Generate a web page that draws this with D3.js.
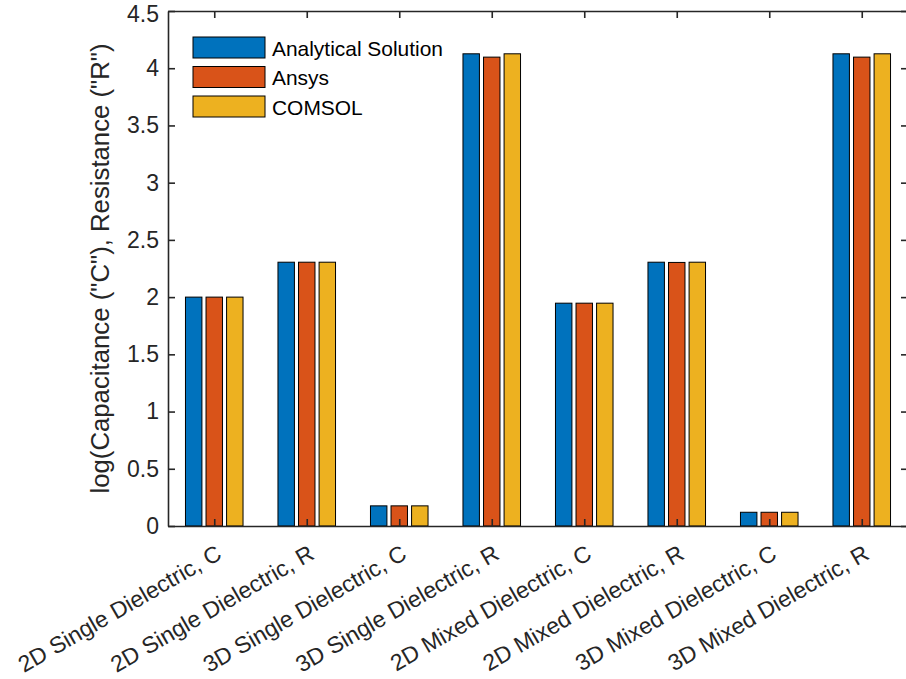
<!DOCTYPE html>
<html>
<head>
<meta charset="utf-8">
<script src="https://cdn.jsdelivr.net/npm/d3@7"></script>
<style>
  body { margin: 0; background: #fff; }
  text { font-family: "Liberation Sans", Arial, sans-serif; }
</style>
</head>
<body>
<svg id="chart" width="906" height="679"></svg>
<script>
const categories = [
    "2D Single Dielectric, C", "2D Single Dielectric, R",
    "3D Single Dielectric, C", "3D Single Dielectric, R",
    "2D Mixed Dielectric, C", "2D Mixed Dielectric, R",
    "3D Mixed Dielectric, C", "3D Mixed Dielectric, R"
];
const seriesNames = ["Analytical Solution", "Ansys", "COMSOL"];
const analytical = [2.0, 2.305, 0.176, 4.126, 1.947, 2.305, 0.12, 4.126];
const ansys      = [2.0, 2.305, 0.176, 4.097, 1.947, 2.303, 0.12, 4.097];
const comsol     = [2.0, 2.305, 0.176, 4.126, 1.947, 2.305, 0.12, 4.126];
const yTicks = [0, 0.5, 1, 1.5, 2, 2.5, 3, 3.5, 4, 4.5];
const colors = ["#0072BD", "#D95319", "#EDB120"];

const series = [analytical, ansys, comsol];

const svg = d3.select("#chart");
const margin = { top: 11, left: 168, right: -2, bottom: 153 };
const width = 906 - margin.left - margin.right,
    height = 679 - margin.top - margin.bottom;
const axisColor = "#262626";
const fontSize = 23; // axes font, label is 1.1x, legend 0.9x

const g = svg.append("g").attr("transform", `translate(${margin.left},${margin.top})`);

// matlab style grouped bars
const x = d3.scaleLinear().domain([0.5, categories.length + 0.5]).range([0, width]);
const y = d3.scaleLinear().domain([0, 4.5]).range([height, 0]);

const groupWidth = Math.min(0.8, 3 / 4.5);
const slot = groupWidth / 3;
const barW = slot * 0.8;

series.forEach((vals, s) => {
    g.append("g")
        .selectAll("rect")
        .data(vals)
        .join("rect")
        .attr("x", (d, i) => x(i + 1 - groupWidth / 2 + slot * s + (slot - barW) / 2))
        .attr("y", d => y(d))
        .attr("width", x(barW) - x(0))
        .attr("height", d => height - y(d))
        .attr("fill", colors[s])
        .attr("stroke", "#000")
        .attr("stroke-width", 1);
});

// axes box with inward ticks
const tickLen = 7;
const idx = d3.range(1, categories.length + 1);

const axBottom = g.append("g")
    .attr("transform", `translate(0,${height})`)
    .call(d3.axisBottom(x).tickValues(idx).tickSizeInner(-tickLen).tickSizeOuter(0).tickFormat(""));
const axTop = g.append("g")
    .call(d3.axisTop(x).tickValues(idx).tickSizeInner(-tickLen).tickSizeOuter(0).tickFormat(""));
const axLeft = g.append("g")
    .call(d3.axisLeft(y).tickValues(yTicks).tickSizeInner(-tickLen).tickSizeOuter(0)
        .tickFormat(d => d));
const axRight = g.append("g")
    .attr("transform", `translate(${width},0)`)
    .call(d3.axisRight(y).tickValues(yTicks).tickSizeInner(-tickLen).tickSizeOuter(0).tickFormat(""));

[axBottom, axTop, axLeft, axRight].forEach(a => {
    a.select(".domain").attr("stroke", axisColor).attr("stroke-width", 1.6);
    a.selectAll(".tick line").attr("stroke", axisColor).attr("stroke-width", 1.6);
});

axLeft.selectAll(".tick text")
    .attr("x", -9)
    .attr("fill", axisColor)
    .style("font-size", fontSize + "px");
// keep the top label inside the page
axLeft.selectAll(".tick text").filter(d => d === 4.5).attr("dy", "0.45em");

// rotated category labels
g.append("g")
    .selectAll("text")
    .data(categories)
    .join("text")
    .attr("transform", (d, i) => `translate(${x(i + 1) + 9},${height + 32}) rotate(-30)`)
    .attr("text-anchor", "end")
    .attr("fill", axisColor)
    .style("font-size", fontSize + "px")
    .text(d => d);

// y axis label
svg.append("text")
    .attr("transform", `translate(109,${margin.top + height / 2}) rotate(-90)`)
    .attr("text-anchor", "middle")
    .attr("fill", axisColor)
    .style("font-size", (fontSize * 1.12) + "px")
    .text('log(Capacitance ("C"), Resistance ("R")');

// legend
const legend = svg.append("g").attr("transform", "translate(193,37)");
seriesNames.forEach((name, i) => {
    const row = legend.append("g").attr("transform", `translate(0,${i * 29.5})`);
    row.append("rect")
        .attr("width", 72).attr("height", 21)
        .attr("fill", colors[i])
        .attr("stroke", "#000").attr("stroke-width", 1);
    row.append("text")
        .attr("x", 79).attr("y", 11.5).attr("dy", "0.35em")
        .attr("fill", "#000")
        .style("font-size", (fontSize * 0.91) + "px")
        .text(name);
});
</script>
</body>
</html>
